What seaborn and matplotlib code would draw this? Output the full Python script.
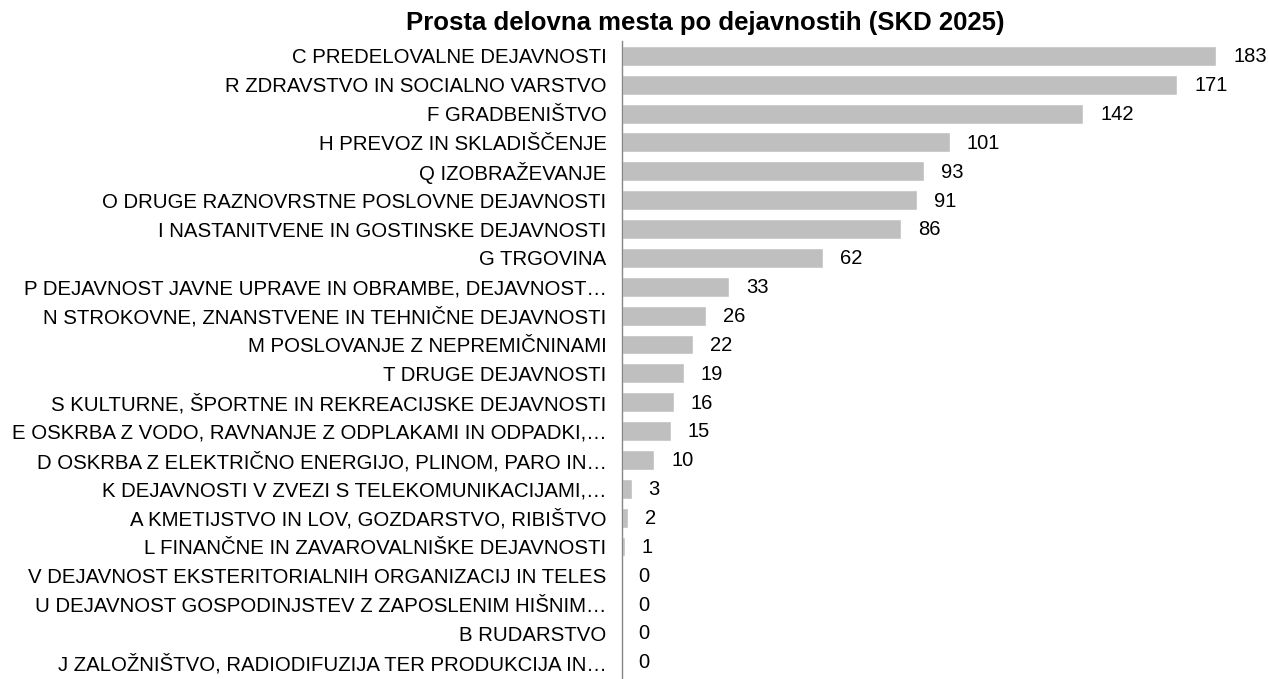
import matplotlib
matplotlib.use('Agg')
import matplotlib.pyplot as plt
import seaborn as sns
import pandas as pd

categories = [
    'C PREDELOVALNE DEJAVNOSTI',
    'R ZDRAVSTVO IN SOCIALNO VARSTVO',
    'F GRADBENIŠTVO',
    'H PREVOZ IN SKLADIŠČENJE',
    'Q IZOBRAŽEVANJE',
    'O DRUGE RAZNOVRSTNE POSLOVNE DEJAVNOSTI',
    'I NASTANITVENE IN GOSTINSKE DEJAVNOSTI',
    'G TRGOVINA',
    'P DEJAVNOST JAVNE UPRAVE IN OBRAMBE, DEJAVNOST…',
    'N STROKOVNE, ZNANSTVENE IN TEHNIČNE DEJAVNOSTI',
    'M POSLOVANJE Z NEPREMIČNINAMI',
    'T DRUGE DEJAVNOSTI',
    'S KULTURNE, ŠPORTNE IN REKREACIJSKE DEJAVNOSTI',
    'E OSKRBA Z VODO, RAVNANJE Z ODPLAKAMI IN ODPADKI,…',
    'D OSKRBA Z ELEKTRIČNO ENERGIJO, PLINOM, PARO IN…',
    'K DEJAVNOSTI V ZVEZI S TELEKOMUNIKACIJAMI,…',
    'A KMETIJSTVO IN LOV, GOZDARSTVO, RIBIŠTVO',
    'L FINANČNE IN ZAVAROVALNIŠKE DEJAVNOSTI',
    'V DEJAVNOST EKSTERITORIALNIH ORGANIZACIJ IN TELES',
    'U DEJAVNOST GOSPODINJSTEV Z ZAPOSLENIM HIŠNIM…',
    'B RUDARSTVO',
    'J ZALOŽNIŠTVO, RADIODIFUZIJA TER PRODUKCIJA IN…',
]
values = [183, 171, 142, 101, 93, 91, 86, 62, 33, 26, 22, 19, 16, 15, 10, 3, 2, 1, 0, 0, 0, 0]

df = pd.DataFrame({'dejavnost': categories, 'stevilo': values})

sns.set_theme(style='white')
plt.rcParams['font.family'] = ['Liberation Sans', 'DejaVu Sans']

fig = plt.figure(figsize=(12.69, 6.79), dpi=100)
ax = fig.add_axes([0.490, 0.0, 0.49, 0.939])

sns.barplot(data=df, y='dejavnost', x='stevilo', color='#BFBFBF', saturation=1,
            width=0.69, orient='h', ax=ax)

# vrednosti desno od stolpcev
for i, v in enumerate(values):
    ax.text(v + 5.2, i + 0.03, str(v), va='center', ha='left', fontsize=14.5, color='black')

ax.set_xlim(0, 191.4)
ax.set_ylim(len(values) - 0.5 + 0.09, -0.5)
ax.set_xlabel('')
ax.set_ylabel('')
ax.set_xticks([])
ax.tick_params(axis='y', length=0, pad=11, labelsize=14.7, labelcolor='black')
for s in ['top', 'right', 'bottom']:
    ax.spines[s].set_visible(False)
ax.spines['left'].set_color('#868686')
ax.spines['left'].set_linewidth(1)

fig.text(0.556, 0.966, 'Prosta delovna mesta po dejavnostih (SKD 2025)',
         ha='center', va='center', fontsize=18.5, fontweight='bold', color='black')

fig.savefig('out.png', dpi=100)
